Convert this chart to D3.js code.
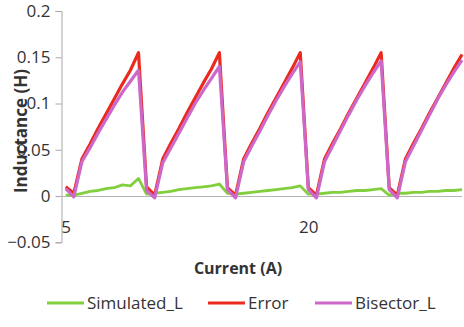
<!DOCTYPE html>
<html>
<head>
<meta charset="utf-8">
<script src="https://cdn.jsdelivr.net/npm/d3@7"></script>
<style>
  body { margin: 0; background: #fff; }
  svg text { font-family: "Open Sans", sans-serif; fill: #333; }
</style>
</head>
<body>
<svg id="chart" width="464" height="327"></svg>
<script>
// current values (A), one per point
const current = [5, 5.5, 6, 6.5, 7, 7.5, 8, 8.5, 9, 9.5,
  10, 10.5, 11, 11.5, 12, 12.5, 13, 13.5, 14, 14.5,
  15, 15.5, 16, 16.5, 17, 17.5, 18, 18.5, 19, 19.5,
  20, 20.5, 21, 21.5, 22, 22.5, 23, 23.5, 24, 24.5,
  25, 25.5, 26, 26.5, 27, 27.5, 28, 28.5, 29, 29.5]

const simulatedL = [0.001, 0.001, 0.003, 0.005, 0.006, 0.008, 0.009, 0.012, 0.011, 0.019,
  0.002, 0.003, 0.004, 0.005, 0.007, 0.008, 0.009, 0.010, 0.011, 0.013,
  0.003, 0.002, 0.003, 0.004, 0.005, 0.006, 0.007, 0.008, 0.009, 0.011,
  0.002, 0.002, 0.003, 0.004, 0.004, 0.005, 0.006, 0.006, 0.007, 0.008,
  0.001, 0.003, 0.003, 0.004, 0.004, 0.005, 0.005, 0.006, 0.006, 0.007]

const errorL = [0.010, 0.003, 0.040, 0.056, 0.073, 0.089, 0.105, 0.121, 0.136, 0.155,
  0.010, 0.001, 0.040, 0.057, 0.073, 0.090, 0.106, 0.122, 0.137, 0.155,
  0.009, 0.001, 0.040, 0.057, 0.073, 0.090, 0.106, 0.122, 0.138, 0.155,
  0.009, 0.001, 0.040, 0.057, 0.073, 0.090, 0.106, 0.122, 0.138, 0.155,
  0.009, 0.001, 0.040, 0.057, 0.073, 0.090, 0.106, 0.122, 0.138, 0.153]

const bisectorL = [0.008, -0.001, 0.037, 0.052, 0.068, 0.083, 0.098, 0.112, 0.124, 0.136,
  0.006, -0.002, 0.036, 0.052, 0.068, 0.084, 0.100, 0.114, 0.127, 0.140,
  0.007, -0.002, 0.037, 0.054, 0.070, 0.087, 0.103, 0.118, 0.132, 0.145,
  0.007, -0.002, 0.037, 0.054, 0.071, 0.088, 0.104, 0.119, 0.133, 0.146,
  0.007, -0.002, 0.037, 0.054, 0.071, 0.088, 0.105, 0.120, 0.134, 0.147]

const yTicks = [-0.05, 0, 0.05, 0.1, 0.15, 0.2]
const xTicks = [5, 20]

const seriesNames = ["Simulated_L", "Error", "Bisector_L"]
const seriesColors = ["#82cf3e", "#ea2a1e", "#cd68c9"]
const seriesData = [simulatedL, errorL, bisectorL]

//
// Chart
//

var svg = d3.select("#chart")
var axisLeftX = 61.5

var x = d3.scaleLinear().domain([5, 29.5]).range([65.7, 462])
var y = d3.scaleLinear().domain([-0.05, 0.2]).range([242.3, 11])

// y axis
var yAxis = svg.append("g")
  .attr("transform", "translate(" + axisLeftX + ",0)")
  .call(d3.axisLeft(y).tickValues(yTicks).tickSize(6).tickPadding(5)
    .tickFormat(function(d) { return d3.format("~g")(d) }))
yAxis.selectAll("path, line").attr("stroke", "#a8a8a8")
yAxis.selectAll("text").style("font-size", "17px").style("font-family", "Open Sans, sans-serif").attr("fill", "#333")

// x axis line at zero
svg.append("line")
  .attr("x1", axisLeftX).attr("x2", 462)
  .attr("y1", Math.round(y(0)) + 0.5).attr("y2", Math.round(y(0)) + 0.5)
  .attr("stroke", "#b4b4b4")

var xAxis = svg.append("g")
  .attr("transform", "translate(0," + y(0) + ")")
  .call(d3.axisBottom(x).tickValues(xTicks).tickSize(0).tickPadding(25).tickFormat(d3.format("d")))
xAxis.select(".domain").remove()
xAxis.selectAll("text").style("font-size", "17px").style("font-family", "Open Sans, sans-serif").attr("fill", "#333")

// lines
var line = d3.line()
  .x(function(d, i) { return x(current[i]) })
  .y(function(d) { return y(d) })

seriesData.forEach(function(s, k) {
  svg.append("path")
    .datum(s)
    .attr("fill", "none")
    .attr("stroke", seriesColors[k])
    .attr("stroke-width", k == 0 ? 2.8 : 3.2)
    .attr("stroke-linejoin", "round")
    .attr("d", line)
})

// titles
svg.append("text")
  .attr("x", 238).attr("y", 274)
  .attr("text-anchor", "middle")
  .style("font-size", "16px").style("font-weight", "bold")
  .attr("fill", "#222")
  .text("Current (A)")

svg.append("text")
  .attr("transform", "translate(27,131) rotate(-90)")
  .attr("text-anchor", "middle")
  .style("font-size", "17px").style("font-weight", "bold")
  .attr("fill", "#222")
  .text("Inductance (H)")

// legend
var legendX = [47, 208, 315]
var legend = svg.selectAll(".legend")
  .data(seriesNames)
  .enter()
  .append("g")
  .attr("class", "legend")
  .attr("transform", function(d, i) { return "translate(" + legendX[i] + ",303)" })

legend.append("line")
  .attr("x1", 0).attr("x2", 37)
  .attr("stroke", function(d, i) { return seriesColors[i] })
  .attr("stroke-width", 3)

legend.append("text")
  .attr("x", 40).attr("dy", "0.35em")
  .style("font-size", "17px")
  .attr("fill", "#333")
  .text(function(d) { return d })
</script>
</body>
</html>
